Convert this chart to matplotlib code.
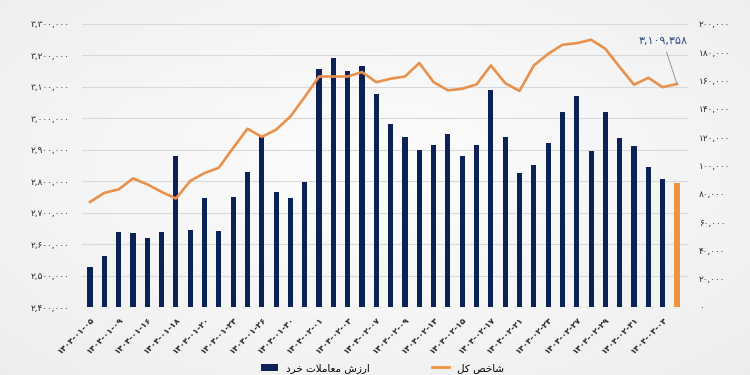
import numpy as np
import matplotlib
matplotlib.use('Agg')
import matplotlib.pyplot as plt
from matplotlib.ticker import FuncFormatter, FixedLocator
from matplotlib.patches import Patch
from matplotlib.lines import Line2D

# daily values, 42 trading days (last one highlighted)
trade_value = [28500, 36300, 53000, 52100, 48500, 53000, 106700, 54400, 77000, 53900,
               78000, 95400, 119900, 81500, 77000, 88600, 168000, 175800, 166800, 170300,
               150500, 129100, 120400, 111200, 114700, 122500, 106700, 114700, 153600, 120400,
               94900, 100400, 115700, 137600, 149300, 110500, 138000, 119200, 113800, 98900,
               90200, 87800]
index_value = [2734000, 2763000, 2774000, 2809000, 2790000, 2766000, 2745000, 2801000, 2826000, 2843000,
               2906000, 2967000, 2941000, 2964000, 3006000, 3068000, 3133000, 3133000, 3133000, 3147000,
               3115000, 3126000, 3133000, 3176000, 3115000, 3089000, 3094000, 3108000, 3168000, 3112000,
               3087000, 3168000, 3205000, 3234000, 3239000, 3250000, 3221000, 3163000, 3107000, 3129000,
               3099000, 3109358]
date_labels = ['۱۴۰۴-۰۱-۰۵', '۱۴۰۴-۰۱-۰۹', '۱۴۰۴-۰۱-۱۶', '۱۴۰۴-۰۱-۱۸', '۱۴۰۴-۰۱-۲۰',
               '۱۴۰۴-۰۱-۲۴', '۱۴۰۴-۰۱-۲۶', '۱۴۰۴-۰۱-۳۰', '۱۴۰۴-۰۲-۰۱', '۱۴۰۴-۰۲-۰۳',
               '۱۴۰۴-۰۲-۰۷', '۱۴۰۴-۰۲-۰۹', '۱۴۰۴-۰۲-۱۳', '۱۴۰۴-۰۲-۱۵', '۱۴۰۴-۰۲-۱۷',
               '۱۴۰۴-۰۲-۲۱', '۱۴۰۴-۰۲-۲۳', '۱۴۰۴-۰۲-۲۷', '۱۴۰۴-۰۲-۲۹', '۱۴۰۴-۰۲-۳۱',
               '۱۴۰۴-۰۳-۰۴']
last_label = '۳,۱۰۹,۳۵۸'
# persian legend labels, pre-shaped (matplotlib has no bidi / arabic shaping)
legend_bars = '\uFEA9\uFEAE\uFEA7 \uFE95\uFEFC\uFEE3\uFE8E\uFECC\uFEE3 \uFEB5\uFEAF\uFEAD\uFE8D'  # ارزش معاملات خرد
legend_line = '\uFEDE\uFB90 \uFEBA\uFEA7\uFE8E\uFEB7'  # شاخص کل

NAVY = '#0c2158'
ORANGE = '#ee9440'
LINE = '#e8914c'

fa_digits = str.maketrans('0123456789', '۰۱۲۳۴۵۶۷۸۹')
def fa(v, pos=None):
    return f'{int(round(v)):,}'.translate(fa_digits)

plt.rcParams['font.family'] = ['DejaVu Sans']

fig = plt.figure(figsize=(7.5, 3.75), dpi=100)

# soft grey vignette behind everything
bg = fig.add_axes([0, 0, 1, 1], zorder=-10)
yy, xx = np.mgrid[0:1:200j, 0:1:400j]
r = np.sqrt(((xx - 0.5) / 0.75) ** 2 + ((yy - 0.45) / 0.8) ** 2)
bg.imshow(r, cmap='Greys', vmin=-0.15, vmax=7.5, aspect='auto', extent=[0, 1, 0, 1])
bg.axis('off')

rect = [82 / 750, 1 - 307 / 375, 606 / 750, 283 / 375]
ax = fig.add_axes(rect)
ax.patch.set_visible(False)
x = np.arange(len(trade_value))

ax.set_ylim(2400000, 3300000)
ax.yaxis.set_major_locator(FixedLocator(np.arange(2400000, 3300001, 100000)))
ax.yaxis.set_major_formatter(FuncFormatter(fa))
ax.grid(axis='y', color='#d9d9d9', lw=0.8)
ax.set_axisbelow(True)

ax2 = ax.twinx()
ax2.patch.set_visible(False)
colors = [NAVY] * (len(trade_value) - 1) + [ORANGE]
ax2.bar(x, trade_value, width=0.36, color=colors)
ax2.set_ylim(0, 200000)
ax2.yaxis.set_major_locator(FixedLocator(np.arange(0, 200001, 20000)))
ax2.yaxis.set_major_formatter(FuncFormatter(fa))

# line on its own overlay so it sits above the bars
ax3 = ax.twinx()
ax3.set_ylim(ax.get_ylim())
ax3.axis('off')
ax3.plot(x, index_value, color=LINE, lw=1.9)
ax3.annotate(last_label, xy=(x[-1], index_value[-1]), xytext=(-10, 27),
             textcoords='offset points', ha='center', va='bottom',
             fontsize=8, color='#2d4f80',
             arrowprops=dict(arrowstyle='-', color='#8a8a8a', lw=0.6,
                             shrinkA=2, shrinkB=0))

ax.set_xlim(-0.56, len(trade_value) - 1 + 0.77)
ax.set_xticks(x[::2])
ax.set_xticklabels(date_labels, rotation=45, ha='right', rotation_mode='anchor',
                   fontsize=6, fontweight='bold', color='#1e2a3a')

for a in (ax, ax2, ax3):
    for s in a.spines.values():
        s.set_visible(False)
ax.tick_params(axis='both', length=0, labelsize=6.5, labelcolor='#2a2a2a')
ax.tick_params(axis='x', pad=6, labelsize=6)
ax2.tick_params(axis='y', length=0, labelsize=6.5, labelcolor='#2a2a2a', pad=8)
ax.tick_params(axis='y', pad=9)

handles = [Patch(facecolor=NAVY, edgecolor='none'),
           Line2D([0], [0], color=ORANGE, lw=2)]
fig.legend(handles, [legend_bars, legend_line], loc='center',
           bbox_to_anchor=(0.51, 1 - 368 / 375), ncol=2, frameon=False,
           fontsize=7.5, handlelength=1.6, columnspacing=6)

fig.savefig('out.png', dpi=100)
